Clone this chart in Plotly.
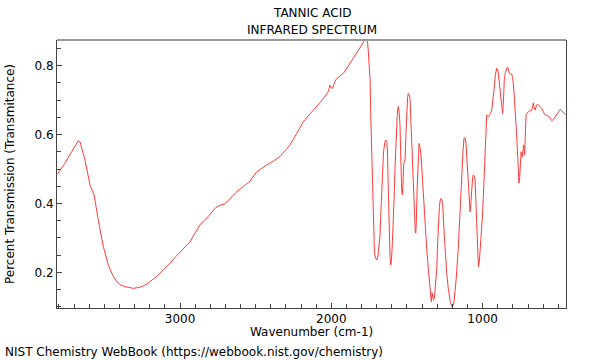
import plotly.graph_objects as go

wavenumber = [3810, 3760, 3716, 3685, 3672, 3661, 3628, 3595, 3568, 3540, 3507, 3474, 3445, 3418, 3390,
              3364, 3330, 3309, 3280, 3253, 3225, 3198, 3170, 3143, 3105, 3066, 3030, 2989, 2960, 2934,
              2901, 2868, 2840, 2813, 2769, 2740, 2703, 2670, 2630, 2582, 2537, 2493, 2460, 2427, 2380,
              2339, 2300, 2273, 2230, 2185, 2140, 2097, 2060, 2020, 2009, 2000, 1991, 1980, 1969, 1945,
              1921, 1890, 1855, 1820, 1789, 1775, 1766, 1760, 1756, 1750, 1744, 1739, 1733, 1728, 1722,
              1715, 1708, 1700, 1692, 1685, 1678, 1670, 1663, 1655, 1646, 1640, 1634, 1629, 1625, 1622,
              1617, 1612, 1607, 1602, 1596, 1590, 1584, 1579, 1572, 1565, 1560, 1557, 1552, 1546, 1542,
              1539, 1535, 1531, 1527, 1522, 1517, 1513, 1507, 1502, 1496, 1491, 1485, 1480, 1474, 1470,
              1465, 1458, 1450, 1445, 1442, 1438, 1432, 1426, 1420, 1415, 1409, 1400, 1392, 1380, 1370,
              1358, 1348, 1342, 1339, 1334, 1330, 1325, 1319, 1312, 1303, 1297, 1292, 1285, 1279, 1274,
              1268, 1264, 1256, 1248, 1238, 1227, 1215, 1204, 1196, 1189, 1175, 1161, 1150, 1139, 1130,
              1123, 1116, 1110, 1102, 1094, 1088, 1083, 1078, 1072, 1066, 1061, 1055, 1050, 1044, 1039,
              1033, 1028, 1022, 1017, 1008, 999, 990, 984, 978, 973, 967, 962, 950, 940, 932,
              925, 915, 907, 900, 896, 888, 881, 874, 868, 862, 857, 850, 845, 838, 834,
              828, 823, 815, 808, 802, 797, 790, 781, 774, 768, 763, 760, 755, 751, 746,
              744, 738, 733, 729, 725, 722, 717, 713, 705, 698, 688, 675, 670, 665, 660,
              653, 645, 638, 632, 620, 609, 598, 587, 575, 565, 555, 543, 530, 514, 500,
              488, 475, 460, 452]

transmittance = [0.485, 0.517, 0.550, 0.572, 0.582, 0.579, 0.526, 0.454, 0.425, 0.352, 0.275, 0.222, 0.192, 0.173, 0.163,
                 0.159, 0.155, 0.154, 0.156, 0.159, 0.165, 0.173, 0.183, 0.193, 0.209, 0.227, 0.245, 0.265, 0.276, 0.289,
                 0.314, 0.338, 0.351, 0.362, 0.386, 0.394, 0.399, 0.415, 0.432, 0.449, 0.465, 0.492, 0.503, 0.512, 0.524,
                 0.536, 0.556, 0.570, 0.602, 0.637, 0.660, 0.681, 0.700, 0.724, 0.743, 0.735, 0.734, 0.750, 0.760, 0.769,
                 0.777, 0.797, 0.821, 0.845, 0.869, 0.876, 0.876, 0.865, 0.845, 0.800, 0.760, 0.650, 0.530, 0.420, 0.309,
                 0.260, 0.242, 0.236, 0.245, 0.270, 0.309, 0.400, 0.483, 0.550, 0.578, 0.584, 0.577, 0.555, 0.470, 0.386,
                 0.300, 0.245, 0.222, 0.240, 0.290, 0.347, 0.430, 0.502, 0.590, 0.650, 0.676, 0.681, 0.665, 0.628, 0.550,
                 0.483, 0.440, 0.425, 0.450, 0.515, 0.522, 0.526, 0.600, 0.676, 0.708, 0.719, 0.715, 0.705, 0.640, 0.580,
                 0.502, 0.420, 0.340, 0.318, 0.314, 0.350, 0.454, 0.530, 0.574, 0.565, 0.550, 0.490, 0.425, 0.340, 0.270,
                 0.205, 0.154, 0.128, 0.115, 0.141, 0.128, 0.120, 0.125, 0.160, 0.212, 0.290, 0.347, 0.395, 0.412, 0.415,
                 0.408, 0.396, 0.330, 0.260, 0.200, 0.154, 0.118, 0.101, 0.103, 0.115, 0.180, 0.270, 0.380, 0.483, 0.550,
                 0.590, 0.590, 0.574, 0.510, 0.439, 0.395, 0.376, 0.400, 0.449, 0.476, 0.483, 0.478, 0.468, 0.400, 0.323,
                 0.250, 0.217, 0.230, 0.256, 0.320, 0.381, 0.480, 0.565, 0.630, 0.657, 0.655, 0.652, 0.660, 0.671, 0.700,
                 0.739, 0.775, 0.792, 0.787, 0.777, 0.740, 0.710, 0.680, 0.661, 0.700, 0.758, 0.780, 0.787, 0.795, 0.795,
                 0.785, 0.777, 0.776, 0.775, 0.765, 0.748, 0.705, 0.652, 0.590, 0.536, 0.480, 0.459, 0.475, 0.497, 0.550,
                 0.548, 0.535, 0.555, 0.570, 0.555, 0.541, 0.610, 0.657, 0.662, 0.666, 0.668, 0.671, 0.680, 0.692, 0.680,
                 0.671, 0.682, 0.688, 0.686, 0.682, 0.676, 0.665, 0.657, 0.655, 0.654, 0.648, 0.640, 0.645, 0.657, 0.666,
                 0.673, 0.668, 0.660, 0.657]

x_range = [3813, 449]
y_range = [0.097, 0.874]

FONT = "DejaVu Sans"

fig = go.Figure()
fig.add_trace(go.Scatter(x=wavenumber, y=transmittance, mode="lines",
                         line=dict(color="#ff3b3b", width=1), hoverinfo="skip"))

fig.update_layout(
    width=600, height=360,
    margin=dict(l=57, r=34, t=40, b=52, autoexpand=False),
    paper_bgcolor="white", plot_bgcolor="white",
    showlegend=False,
    font=dict(family=FONT, size=12, color="black"),
    xaxis=dict(range=x_range, tickvals=[3000, 2000, 1000], ticktext=["3000", "2000", "1000"],
               automargin=False,
               showgrid=False, zeroline=False, showline=True, linecolor="#444", linewidth=1,
               ticks="inside", ticklen=5, tickcolor="#444",
               minor=dict(dtick=100, tick0=0, ticks="inside", ticklen=4, tickcolor="#444"),
               title=dict(text="")),
    yaxis=dict(range=y_range, tickvals=[0.2, 0.4, 0.6, 0.8], ticktext=["0.2", "0.4", "0.6", "0.8"],
               automargin=False,
               showgrid=False, zeroline=False, showline=True, linecolor="#444", linewidth=1, mirror=True,
               ticks="inside", ticklen=5, tickcolor="#444",
               minor=dict(dtick=0.05, tick0=0, ticks="inside", ticklen=4, tickcolor="#444"),
               title=dict(text="")),
    shapes=[dict(type="line", xref="paper", yref="paper", x0=0, x1=1, y0=1, y1=1,
                 line=dict(color="#999", width=2))],
    annotations=[
        dict(text="TANNIC ACID", xref="paper", yref="paper", x=0.5, y=1, yshift=27,
             showarrow=False, xanchor="center", yanchor="middle", font=dict(size=12)),
        dict(text="INFRARED SPECTRUM", xref="paper", yref="paper", x=0.5, y=1, yshift=10,
             showarrow=False, xanchor="center", yanchor="middle", font=dict(size=12)),
        dict(text="Wavenumber (cm-1)", xref="paper", yref="paper", x=0.5, y=0, yshift=-24,
             showarrow=False, xanchor="center", yanchor="middle", font=dict(size=12)),
        dict(text="Percent Transmission (Transmitance)", xref="paper", yref="paper", x=0, y=0.5,
             xshift=-47, textangle=-90, showarrow=False, xanchor="center", yanchor="middle",
             font=dict(size=12)),
        dict(text="NIST Chemistry WebBook (https://webbook.nist.gov/chemistry)", xref="paper", yref="paper",
             x=0, y=0, xshift=-54, yshift=-44, showarrow=False, xanchor="left", yanchor="middle",
             font=dict(size=12)),
    ],
)

fig.write_html("out.html", config={"displayModeBar": False},
               post_script="document.body.style.margin='0';")
